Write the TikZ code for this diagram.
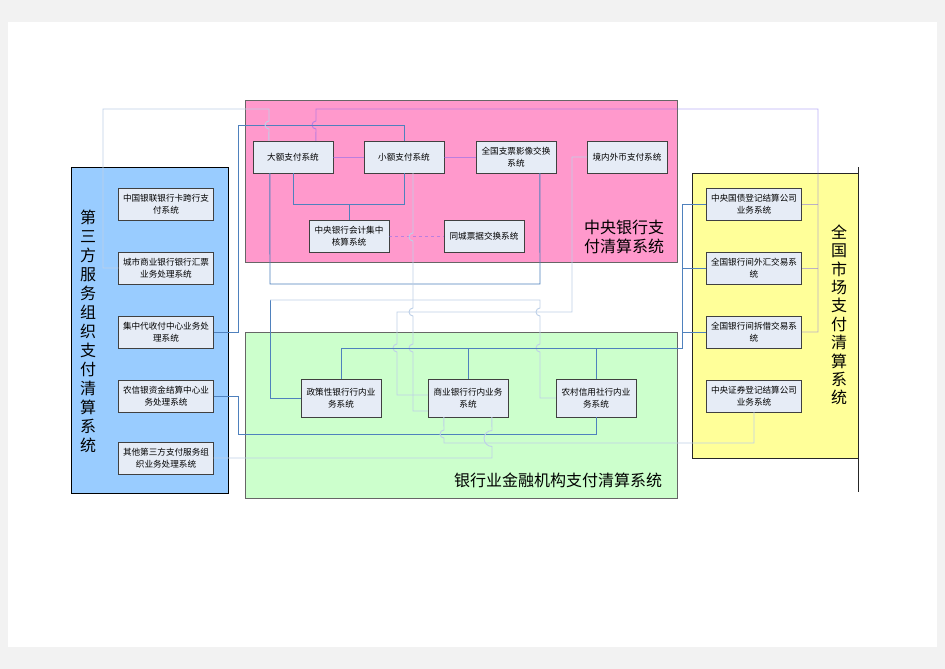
\documentclass[tikz,border=0pt]{standalone}
\usepackage{fontspec}
\setmainfont{Noto Sans CJK SC}
\usepackage{tikz}
\usetikzlibrary{positioning, calc}
\definecolor{PbcColor}{RGB}{255,153,204}
\definecolor{ThirdColor}{RGB}{153,204,255}
\definecolor{BankColor}{RGB}{204,255,204}
\definecolor{MarketColor}{RGB}{255,255,153}
\definecolor{BoxColor}{RGB}{230,236,246}
\definecolor{LinkColor}{RGB}{79,129,189}
\definecolor{PaleColor}{RGB}{190,208,232}
\definecolor{LilacColor}{RGB}{120,100,240}
\tikzstyle{system} = [rectangle, draw=black!75, fill=BoxColor, align=center, inner sep=1pt, font=\fontsize{8.6}{12}\selectfont]
\tikzstyle{wide} = [system, minimum width=95, minimum height=32]
\tikzstyle{narrow} = [system, minimum width=80, minimum height=32]
\tikzstyle{frame} = [draw=black!60, line width=1pt]
\tikzstyle{biglabel} = [align=center, font=\fontsize{16}{19}\selectfont]
\tikzstyle{link} = [LinkColor, line width=0.9pt]
\tikzstyle{pale} = [PaleColor, line width=0.9pt]
\tikzstyle{lilac} = [LilacColor, opacity=0.5, line width=0.9pt]

\begin{document}
\begin{tikzpicture}[x=1pt, y=-1pt]
    \useasboundingbox (0,0) rectangle (945,669);
    \fill[black!5] (0,0) rectangle (945,669);
    \fill[white] (8,22) rectangle (937,647);

    % Containers
    \draw[frame, fill=PbcColor] (245,100) rectangle (677,262);
    \draw[frame, draw=black, fill=ThirdColor] (71,167) rectangle (228,493);
    \draw[frame, fill=BankColor] (245,332) rectangle (677,498);
    \draw[frame, draw=black!85, fill=MarketColor] (692,173) rectangle (858,458);
    \draw[black!85, line width=1pt] (858,167) -- (858,492);

    \node[biglabel, align=left] (pbclabel) at (624,237) {中央银行支\\付清算系统};
    \node[biglabel] (banklabel) at (558,480) {银行业金融机构支付清算系统};
    \node[biglabel] (thirdlabel) at (88,331) {第\\三\\方\\服\\务\\组\\织\\支\\付\\清\\算\\系\\统};
    \node[biglabel, font=\fontsize{16}{18.4}\selectfont] (marketlabel) at (839,315) {全\\国\\市\\场\\支\\付\\清\\算\\系\\统};

    % Central bank systems
    \node[narrow] (dae) at (293,157) {大额支付系统};
    \node[narrow] (xiaoe) at (404,157) {小额支付系统};
    \node[narrow] (zhipiao) at (516,157) {全国支票影像交换\\系统};
    \node[narrow] (jingnei) at (627,157) {境内外币支付系统};
    \node[narrow] (kuaiji) at (349,236) {中央银行会计集中\\核算系统};
    \node[narrow] (tongcheng) at (484,236) {同城票据交换系统};

    % Third party systems
    \node[wide] (yinlian) at (166,204) {中国银联银行卡跨行支\\付系统};
    \node[wide] (chengshang) at (166,268) {城市商业银行银行汇票\\业务处理系统};
    \node[wide] (jizhong) at (166,332) {集中代收付中心业务处\\理系统};
    \node[wide] (nongxin) at (166,396) {农信银资金结算中心业\\务处理系统};
    \node[wide] (qita) at (166,458) {其他第三方支付服务组\\织业务处理系统};

    % Market systems
    \node[wide] (zhaiquan) at (754,204) {中央国债登记结算公司\\业务系统};
    \node[wide] (waihui) at (754,268) {全国银行间外汇交易系\\统};
    \node[wide] (chaijie) at (754,332) {全国银行间拆借交易系\\统};
    \node[wide] (zhengquan) at (754,396) {中央证券登记结算公司\\业务系统};

    % Bank systems
    \node[narrow, minimum height=38] (zhengce) at (341,398) {政策性银行行内业\\务系统};
    \node[narrow, minimum height=38] (shangye) at (468,398) {商业银行行内业务\\系统};
    \node[narrow, minimum height=38] (nongcun) at (596,398) {农村信用社行内业\\务系统};

    % Links inside central bank
    \draw[lilac] (dae) -- (xiaoe);
    \draw[lilac] (xiaoe) -- (zhipiao);
    \draw[link] (dae.south) -- (293,204) -- (404,204) -- (xiaoe.south);
    \draw[link] (349,204) -- (kuaiji.north);
    \draw[lilac, dashed] (kuaiji) -- (tongcheng);

    % Links over the top
    \draw[link] (jizhong.east) -- (238,332) -- (238,125) -- (404,125) -- (xiaoe.north);
    \draw[pale] (chengshang.west) -- (103,268) -- (103,109) -- (269,109) -- (269,121)
        arc[start angle=270, end angle=90, radius=4] -- ($(dae.north west)+(16,0)$);
    \draw[lilac] ($(dae.north west)+(63,0)$) -- (316,129)
        arc[start angle=90, end angle=270, radius=4] -- (316,109) -- (818,109) -- (818,332) -- (chaijie.east);
    \draw[lilac] (818,204) -- (zhaiquan.east);
    \draw[lilac] (818,268) -- (waihui.east);

    % Links between central bank and banks
    \draw[link] ($(dae.south west)+(17,0)$) -- (270,284) -- (540,284) -- ($(zhipiao.south west)+(64,0)$);
    \draw[link] (zhengce.west) -- (270,398) -- (270,300);
    \draw[pale] (270,300) -- (540,300) -- (540,308)
        arc[start angle=270, end angle=90, radius=4] -- (540,344)
        arc[start angle=270, end angle=90, radius=4] -- (540,398) -- (nongcun.west);
    \draw[pale] (jingnei.west) -- (572,157) -- (572,312) -- (397,312) -- (397,344)
        arc[start angle=270, end angle=90, radius=4] -- (397,395) -- ($(shangye.west)+(0,-3)$);
    \draw[pale] ($(xiaoe.south)+(9,0)$) -- (413,233)
        arc[start angle=270, end angle=90, radius=4] -- (413,308)
        arc[start angle=270, end angle=90, radius=4] -- (413,344)
        arc[start angle=270, end angle=90, radius=4] -- (413,411) -- ($(shangye.west)+(0,13)$);

    % Bank bus to market
    \draw[link] (zhengce.north) -- (341,348) -- (682,348) -- (682,204) -- (zhaiquan.west);
    \draw[link] (shangye.north) -- ++(0,-31);
    \draw[link] (nongcun.north) -- ++(0,-31);
    \draw[link] (682,268) -- (waihui.west);
    \draw[link] (682,332) -- (chaijie.west);

    % Links below the banks
    \draw[link] (nongxin.east) -- (238,396) -- (238,434) -- (596,434) -- (nongcun.south);
    \draw[pale] ($(shangye.south west)+(16,0)$) -- (444,430)
        arc[start angle=270, end angle=90, radius=4] -- (444,443) -- (754,443) -- (zhengquan.south);
    \draw[pale] ($(shangye.south west)+(64,0)$) -- (492,430.5)
        arc[start angle=270, end angle=90, radius=8] -- (492,458) -- (qita.east);
\end{tikzpicture}
\end{document}
